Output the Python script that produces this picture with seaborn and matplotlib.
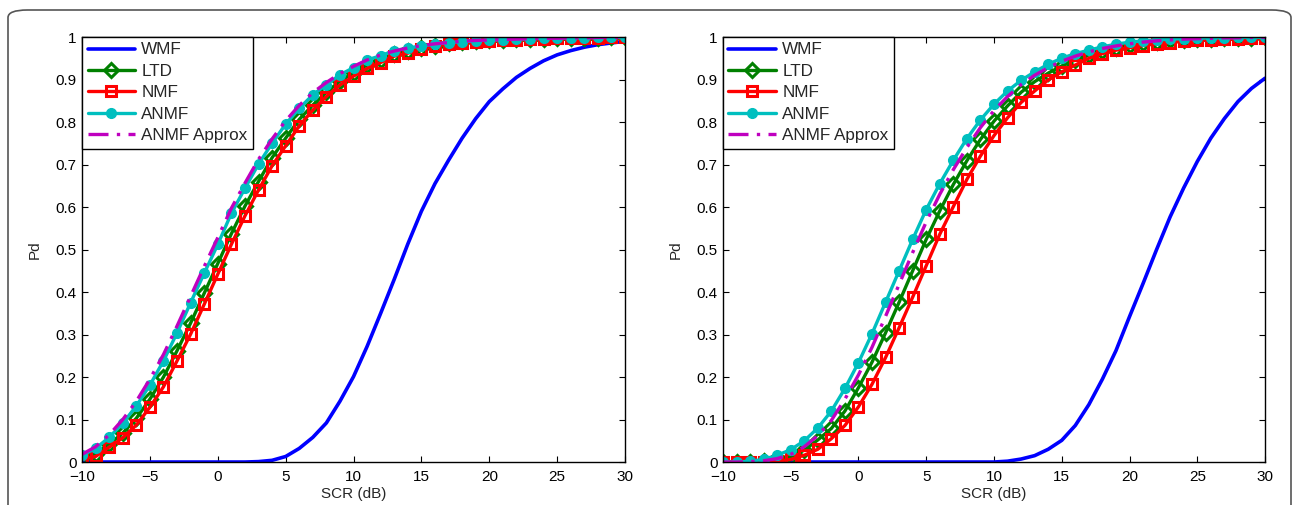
import numpy as np
import matplotlib
matplotlib.use("Agg")
import matplotlib.pyplot as plt
from matplotlib.patches import FancyBboxPatch
import seaborn as sns

# Datos (Pd vs SCR en dB, paso de 1 dB)
scr = list(range(-10, 31))

# Panel izquierdo
wmf_a = [0, 0, 0, 0, 0, 0, 0, 0, 0, 0, 0, 0, 0, 0.001, 0.004, 0.013, 0.032, 0.058, 0.092, 0.143, 0.201,
         0.272, 0.35, 0.43, 0.513, 0.59, 0.655, 0.71, 0.762, 0.808, 0.848, 0.878, 0.905, 0.926, 0.944,
         0.958, 0.968, 0.976, 0.982, 0.986, 0.99]
ltd_a = [0.01, 0.02, 0.042, 0.068, 0.103, 0.148, 0.2, 0.262, 0.327, 0.397, 0.467, 0.537, 0.602, 0.66,
         0.716, 0.762, 0.806, 0.84, 0.87, 0.896, 0.916, 0.934, 0.947, 0.96, 0.967, 0.975, 0.98, 0.985,
         0.988, 0.99, 0.992, 0.993, 0.995, 0.996, 0.996, 0.997, 0.998, 0.998, 0.998, 0.999, 0.999]
nmf_a = [0.006, 0.013, 0.035, 0.057, 0.087, 0.129, 0.177, 0.238, 0.301, 0.371, 0.442, 0.512, 0.579, 0.64,
         0.697, 0.744, 0.791, 0.828, 0.86, 0.887, 0.908, 0.926, 0.94, 0.955, 0.962, 0.972, 0.978, 0.984,
         0.986, 0.989, 0.991, 0.993, 0.994, 0.995, 0.996, 0.997, 0.997, 0.998, 0.998, 0.999, 0.999]
anmf_a = [0.016, 0.032, 0.058, 0.091, 0.132, 0.181, 0.238, 0.304, 0.375, 0.444, 0.512, 0.585, 0.644, 0.701,
          0.75, 0.795, 0.832, 0.864, 0.888, 0.911, 0.928, 0.946, 0.956, 0.968, 0.974, 0.979, 0.983, 0.987,
          0.989, 0.991, 0.993, 0.994, 0.995, 0.996, 0.997, 0.997, 0.998, 0.998, 0.999, 0.999, 0.999]
approx_a = [0.018, 0.036, 0.064, 0.1, 0.143, 0.195, 0.253, 0.32, 0.39, 0.46, 0.528, 0.597, 0.656, 0.712,
            0.76, 0.803, 0.839, 0.869, 0.893, 0.914, 0.931, 0.946, 0.958, 0.967, 0.974, 0.98, 0.984, 0.987,
            0.99, 0.992, 0.993, 0.994, 0.995, 0.996, 0.997, 0.997, 0.998, 0.998, 0.999, 0.999, 0.999]

# Panel derecho
wmf_b = [0, 0, 0, 0, 0, 0, 0, 0, 0, 0, 0, 0, 0, 0, 0, 0, 0, 0, 0, 0, 0, 0.002, 0.007, 0.015, 0.03,
         0.051, 0.086, 0.135, 0.195, 0.262, 0.342, 0.42, 0.5, 0.577, 0.645, 0.707, 0.762, 0.808, 0.848,
         0.879, 0.903]
ltd_b = [0, 0, 0.001, 0.002, 0.005, 0.012, 0.028, 0.052, 0.079, 0.12, 0.175, 0.235, 0.304, 0.376, 0.45,
         0.524, 0.591, 0.653, 0.709, 0.759, 0.802, 0.838, 0.87, 0.895, 0.915, 0.932, 0.946, 0.958, 0.967,
         0.975, 0.981, 0.985, 0.989, 0.992, 0.994, 0.995, 0.996, 0.997, 0.998, 0.998, 0.999]
nmf_b = [0, 0, 0, 0.001, 0.002, 0.006, 0.016, 0.03, 0.055, 0.086, 0.13, 0.183, 0.246, 0.316, 0.388, 0.462,
         0.536, 0.601, 0.665, 0.72, 0.768, 0.81, 0.846, 0.873, 0.899, 0.918, 0.934, 0.95, 0.961, 0.969,
         0.975, 0.98, 0.984, 0.987, 0.99, 0.992, 0.994, 0.995, 0.996, 0.997, 0.998]
anmf_b = [0, 0, 0.002, 0.006, 0.016, 0.029, 0.05, 0.08, 0.12, 0.173, 0.234, 0.302, 0.376, 0.45, 0.524,
          0.594, 0.655, 0.71, 0.761, 0.805, 0.842, 0.873, 0.898, 0.918, 0.936, 0.95, 0.961, 0.969, 0.977,
          0.983, 0.988, 0.991, 0.993, 0.995, 0.996, 0.997, 0.998, 0.998, 0.999, 0.999, 0.999]
approx_b = [0, 0, 0.001, 0.003, 0.008, 0.018, 0.036, 0.062, 0.098, 0.148, 0.205, 0.27, 0.343, 0.418, 0.493,
            0.565, 0.63, 0.688, 0.74, 0.787, 0.827, 0.86, 0.888, 0.91, 0.928, 0.943, 0.955, 0.965, 0.973,
            0.979, 0.984, 0.988, 0.991, 0.993, 0.995, 0.996, 0.997, 0.998, 0.998, 0.999, 0.999]

xticks = [-10, -5, 0, 5, 10, 15, 20, 25, 30]
yticks = [0, 0.1, 0.2, 0.3, 0.4, 0.5, 0.6, 0.7, 0.8, 0.9, 1]
ytick_labels = ['0', '0.1', '0.2', '0.3', '0.4', '0.5', '0.6', '0.7', '0.8', '0.9', '1']

sns.set_style("white")
plt.rcParams['font.family'] = ['Liberation Sans', 'DejaVu Sans']
plt.rcParams['axes.unicode_minus'] = True

GREEN = (0, 0.5, 0)
CYAN = (0, 0.75, 0.75)
MAGENTA = (0.75, 0, 0.75)


def panel(ax, wmf, ltd, nmf, anmf, approx):
    sns.lineplot(x=scr, y=wmf, color='blue', lw=2.6, label='WMF', ax=ax)
    sns.lineplot(x=scr, y=ltd, color=GREEN, lw=2.4, marker='D', markersize=7,
                 markerfacecolor='none', markeredgecolor=GREEN, markeredgewidth=2.2,
                 label='LTD', ax=ax)
    sns.lineplot(x=scr, y=nmf, color='red', lw=2.4, marker='s', markersize=7.5,
                 markerfacecolor='none', markeredgecolor='red', markeredgewidth=2.2,
                 label='NMF', ax=ax)
    sns.lineplot(x=scr, y=anmf, color=CYAN, lw=2.4, marker='o', markersize=7,
                 markerfacecolor=CYAN, markeredgecolor=CYAN, markeredgewidth=1,
                 label='ANMF', ax=ax)
    sns.lineplot(x=scr, y=approx, color=MAGENTA, lw=2.4, linestyle=(0, (6, 2.5, 1, 2.5)),
                 label='ANMF Approx', ax=ax)

    ax.set_xlim(-10, 30)
    ax.set_ylim(0, 1)
    ax.set_xticks(xticks)
    ax.set_yticks(yticks)
    ax.set_yticklabels(ytick_labels)
    ax.tick_params(direction='in', length=4, width=0.8, labelsize=11,
                   top=True, right=True, bottom=True, left=True, colors='black')
    ax.tick_params(axis='x', pad=6)
    ax.tick_params(axis='y', pad=4)
    for s in ax.spines.values():
        s.set_color('black')
        s.set_linewidth(1)
    ax.set_xlabel('SCR (dB)', fontsize=11, labelpad=2)
    ax.set_ylabel('Pd', fontsize=11, labelpad=10)
    leg = ax.legend(loc='upper left', borderaxespad=0, fontsize=12.3, handlelength=2.8,
                    handletextpad=0.35, labelspacing=0.38, borderpad=0.32, fancybox=False,
                    framealpha=1, edgecolor='black')
    leg.get_frame().set_linewidth(1)


fig = plt.figure(figsize=(12.94, 5.05), dpi=100)
ax1 = fig.add_axes([0.0634, 0.0851, 0.4196, 0.8416])
ax2 = fig.add_axes([0.5587, 0.0851, 0.4189, 0.8416])

panel(ax1, wmf_a, ltd_a, nmf_a, anmf_a, approx_a)
panel(ax2, wmf_b, ltd_b, nmf_b, anmf_b, approx_b)

# Marco redondeado alrededor de la figura
frame = FancyBboxPatch((8 / 1294, -0.1), 1283 / 1294, 1.1 - 10 / 505,
                       boxstyle="round,pad=0,rounding_size=0.015",
                       transform=fig.transFigure, fill=False,
                       edgecolor='#555555', linewidth=1.2, clip_on=False)
fig.patches.append(frame)

fig.savefig('out.png', dpi=100)
